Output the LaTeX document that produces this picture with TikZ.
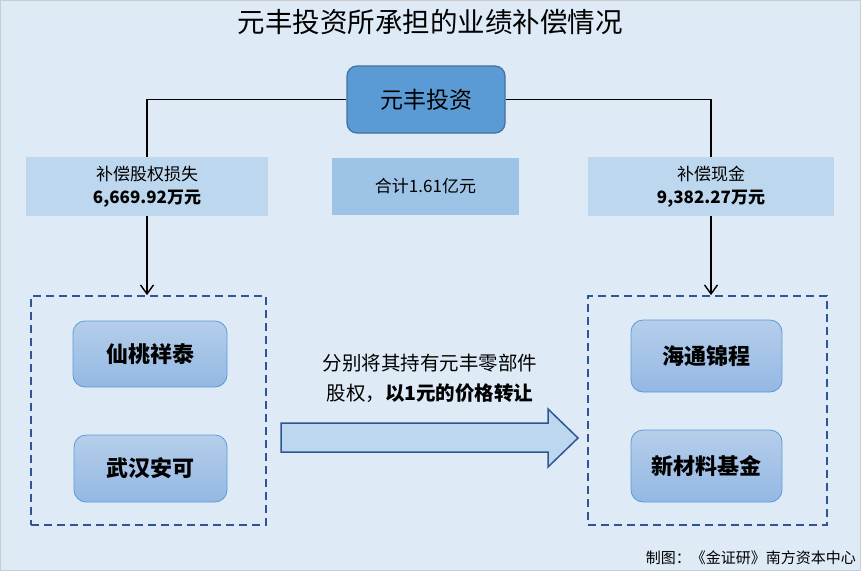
\documentclass[tikz,border=0pt]{standalone}
\usepackage{fontspec}
\setmainfont{Noto Sans CJK SC}
\usetikzlibrary{arrows.meta}
\definecolor{bgblue}{HTML}{DEEBF7}
\definecolor{topblue}{HTML}{5B9BD5}
\definecolor{topedge}{HTML}{41719C}
\definecolor{paleblue}{HTML}{BDD7EE}
\definecolor{midblue}{HTML}{9DC3E6}
\definecolor{dashblue}{HTML}{2F5597}
\definecolor{gradtop}{HTML}{B5CEEB}
\definecolor{gradbot}{HTML}{94B8E3}
\begin{document}
\begin{tikzpicture}[x=1pt,y=-1pt,
  every node/.style={inner sep=0pt,text=black},
  topbox/.style={rectangle,rounded corners=10pt,fill=topblue,draw=topedge,line width=1.2pt,minimum width=158pt,minimum height=67pt,font=\fontsize{23}{27}\selectfont},
  sumbox/.style={rectangle,fill=paleblue,minimum height=59pt,align=center,font=\fontsize{17}{23}\selectfont},
  firmbox/.style={rectangle,rounded corners=12pt,top color=gradtop,bottom color=gradbot,draw=topblue,line width=0.8pt,font=\bfseries\fontsize{22}{26}\selectfont},
  groupbox/.style={rectangle,draw=dashblue,line width=1.8pt,dash pattern=on 8pt off 5pt},
  link/.style={draw=black,line width=1.4pt},
  tip/.style={-{Straight Barb[length=9pt,width=13pt,line width=1.4pt]}}]
\fill[bgblue] (0,0) rectangle (861,571);
\draw[gray!40,line width=1pt] (0.5,0.5) rectangle (860.5,570.5);
\node (title) at (430,22) {\fontsize{27.5}{30}\selectfont 元丰投资所承担的业绩补偿情况};
% upper part
\node[topbox] (yf) at (426,99.5) {元丰投资};
\node[sumbox,minimum width=242pt] (loss) at (147,186.5) {补偿股权损失\\\textbf{6,669.92万元}};
\node[sumbox,fill=midblue,minimum width=187pt,minimum height=57pt] (total) at (425.5,186.5) {合计1.61亿元};
\node[sumbox,minimum width=246pt] (cash) at (711,186.5) {补偿现金\\\textbf{9,382.27万元}};
% groups
\node[groupbox,minimum width=235pt,minimum height=229pt] (left) at (148.5,410.5) {};
\node[groupbox,minimum width=239pt,minimum height=229pt] (right) at (707.5,410.5) {};
\node[firmbox,minimum width=154pt,minimum height=66pt] (xt) at (150,354) {仙桃祥泰};
\node[firmbox,minimum width=153pt,minimum height=67pt] (wh) at (150.5,468.5) {武汉安可};
\node[firmbox,minimum width=151pt,minimum height=72pt] (ht) at (706.5,356) {海通锦程};
\node[firmbox,minimum width=151pt,minimum height=72pt] (xcl) at (706.5,466) {新材料基金};
% connectors
\path[link] (yf.west) -| (loss.north);
\path[link] (yf.east) -| (cash.north);
\draw[link,tip] (loss.south) -- (loss.south |- left.north);
\draw[link,tip] (cash.south) -- (cash.south |- right.north);
% transfer
\draw[fill=paleblue,draw=dashblue,line width=1.5pt,line join=miter] (281,423) -- (548,423) -- (548,409) -- (578,438) -- (548,467) -- (548,452) -- (281,452) -- cycle;
\node[align=center,font=\fontsize{19.5}{30}\selectfont] (note) at (430,378) {分别将其持有元丰零部件\\股权，\textbf{以1元的价格转让}};
\node[anchor=east,font=\fontsize{15}{17}\selectfont] (src) at (856,558) {制图：《金证研》南方资本中心};
\end{tikzpicture}
\end{document}
